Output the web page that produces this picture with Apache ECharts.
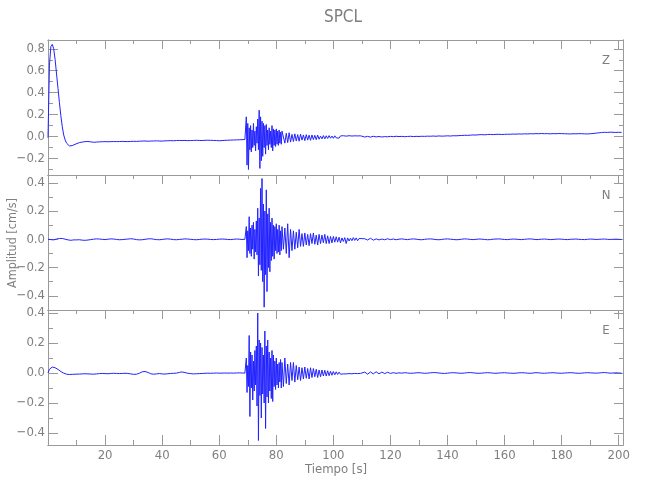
<!DOCTYPE html>
<html><head><meta charset="utf-8">
<script src="https://cdn.jsdelivr.net/npm/echarts@6/dist/echarts.min.js"></script>
<style>html,body{margin:0;padding:0;background:#fff}#c{width:650px;height:500px}</style>
</head><body><div id="c"></div>
<script>
// ---- sampling segments (start time, step in s) ----
const segInicio = [0, 11, 69.5, 82.5, 111];
const segPaso = [0.5, 1, 0.25, 0.5, 1];

// ---- Z component ----
const z_0_10 = [-0.01,0.65,0.82,0.84,0.80,0.70,0.57,0.44,0.31,0.19,0.09,0.015,-0.03,-0.06,-0.075,-0.085,-0.086,-0.082,-0.077,-0.07,-0.063];
const z_11_69 = [-0.055,-0.05,-0.046,-0.045,-0.048,-0.052,-0.05,-0.048,-0.047,-0.046,
-0.047,-0.046,-0.045,-0.046,-0.045,-0.044,-0.045,-0.046,-0.044,-0.043,
-0.044,-0.042,-0.041,-0.04,-0.042,-0.041,-0.04,-0.039,-0.04,-0.041,
-0.039,-0.038,-0.037,-0.038,-0.036,-0.035,-0.036,-0.035,-0.037,-0.036,
-0.035,-0.034,-0.035,-0.036,-0.034,-0.033,-0.034,-0.035,-0.036,-0.038,
-0.036,-0.034,-0.033,-0.032,-0.031,-0.03,-0.029,-0.028,-0.027];
const z_69_82 = [0.18,-0.26,0.12,-0.30,0.08,-0.12,0.10,-0.14,0.06,-0.10,
0.12,-0.08,0.05,-0.13,0.09,-0.06,0.16,-0.12,0.24,-0.29,
0.18,-0.22,0.14,-0.18,0.12,-0.10,0.10,-0.16,0.11,-0.08,
0.06,-0.12,0.08,-0.07,0.05,-0.10,0.10,-0.13,0.07,-0.08,
0.06,-0.09,0.07,-0.07,0.05,-0.08,0.06,-0.06,0.04,-0.07,
0.05];
const z_82_110 = [0.04,-0.06,0.03,-0.055,0.035,-0.05,0.02,-0.045,0.025,-0.04,
0.018,-0.042,0.022,-0.032,0.015,-0.037,0.018,-0.032,0.013,-0.034,
0.015,-0.027,0.012,-0.028,0.014,-0.024,0.004,-0.021,0.009,-0.021,
0.007,-0.017,0.009,-0.015,0.005,-0.016,0.007,-0.012,0.004,-0.014,
0.006,-0.01,0.008,-0.009,0.004,-0.008,0.008,-0.006,0.005,-0.007,
0.007,-0.004,0.006,-0.005,0.007,-0.002];
const z_111_201 = [-0.004,0.002,-0.005,0.003,-0.003,0.001,-0.004,0.0,-0.002,0.002,
-0.001,0.003,0.0,0.002,-0.001,0.001,0.003,0.0,0.002,0.001,
0.003,0.002,0.004,0.003,0.005,0.003,0.006,0.004,0.005,0.007,
0.005,0.008,0.007,0.009,0.01,0.012,0.011,0.013,0.015,0.014,
0.017,0.018,0.016,0.019,0.02,0.018,0.02,0.021,0.019,0.02,
0.022,0.021,0.023,0.022,0.024,0.023,0.025,0.024,0.026,0.025,
0.027,0.026,0.028,0.026,0.027,0.025,0.027,0.026,0.028,0.027,
0.026,0.025,0.024,0.026,0.025,0.027,0.026,0.025,0.024,0.026,
0.028,0.031,0.034,0.037,0.039,0.038,0.04,0.039,0.038,0.039,
0.038];

// ---- N component ----
const n_0_10 = [0,0.003,-0.002,-0.006,-0.004,-0.001,0.002,0.004,0.006,0.007,0.006,0.004,0.001,-0.002,-0.004,-0.006,-0.007,-0.006,-0.004,-0.003,-0.004];
const n_11_69 = [-0.003,-0.006,-0.007,-0.005,-0.002,0.001,0.003,0.002,0.0,-0.002,
0.001,0.003,0.002,-0.001,-0.003,-0.002,0.0,0.002,0.004,0.002,
-0.002,-0.004,-0.003,0.0,0.003,0.004,0.001,-0.002,-0.003,-0.001,
0.002,0.003,0.001,-0.002,-0.003,-0.001,0.001,0.003,0.002,0.0,
-0.002,-0.003,-0.001,0.001,0.002,0.001,-0.001,-0.002,-0.001,0.001,
0.002,0.001,-0.001,-0.002,0.0,0.002,0.001,-0.001,0.0];
const n_69_82 = [0.09,-0.13,0.06,-0.08,0.16,-0.10,0.08,-0.12,0.10,-0.07,
0.12,-0.14,0.07,-0.09,0.13,-0.11,0.22,-0.26,0.15,-0.18,
0.36,-0.22,0.43,-0.30,0.25,-0.48,0.20,-0.25,0.35,-0.37,
0.18,-0.20,0.22,-0.23,0.12,-0.15,0.15,-0.12,0.10,-0.14,
0.09,-0.08,0.11,-0.10,0.07,-0.09,0.10,-0.11,0.06,-0.08,
0.09];
const n_82_110 = [-0.07,0.08,-0.10,0.11,-0.13,0.07,-0.08,0.06,-0.07,0.05,
-0.06,0.07,-0.05,0.04,-0.05,0.045,-0.04,0.035,-0.045,0.04,
-0.03,0.045,-0.035,0.03,-0.04,0.035,-0.03,0.03,-0.025,0.035,
-0.03,0.025,-0.03,0.02,-0.025,0.02,-0.02,0.018,-0.02,0.015,
-0.025,0.01,-0.015,0.012,-0.03,0.01,-0.012,0.008,-0.01,0.012,
-0.008,0.01,-0.01,0.006,-0.008,0.005];
const n_111_201 = [0.004,-0.005,0.008,-0.006,0.003,-0.004,0.002,-0.003,0.004,-0.002,
0.002,-0.003,0.001,0.003,0.0,-0.002,0.001,0.003,0.001,-0.002,
-0.003,0.0,0.002,0.003,0.001,-0.002,-0.003,-0.001,0.002,0.003,
0.001,-0.001,-0.003,-0.002,0.001,0.003,0.002,-0.001,-0.002,0.0,
0.002,0.001,-0.001,-0.003,-0.002,0.001,0.002,0.003,0.001,-0.001,
-0.002,0.0,0.002,0.001,-0.001,-0.002,0.0,0.002,0.003,0.001,
-0.002,-0.001,0.001,0.002,0.0,-0.002,-0.001,0.001,0.002,0.001,
-0.001,-0.002,0.0,0.001,0.002,0.0,-0.001,-0.002,0.0,0.002,
0.001,-0.001,0.0,0.001,0.002,0.0,-0.001,0.0,0.001,0.0,
-0.001];

// ---- E component ----
const e_0_10 = [0.0,0.025,0.038,0.04,0.038,0.035,0.03,0.024,0.017,0.01,0.004,-0.001,-0.005,-0.008,-0.01,-0.01,-0.009,-0.009,-0.008,-0.008,-0.007];
const e_11_69 = [-0.007,-0.006,-0.005,-0.006,-0.007,-0.008,-0.006,-0.004,-0.003,-0.004,
-0.005,-0.003,-0.002,-0.003,-0.004,-0.003,-0.002,-0.003,-0.006,-0.009,
-0.008,-0.002,0.008,0.01,0.004,-0.005,-0.008,-0.006,-0.004,-0.006,
-0.007,-0.005,-0.003,-0.002,-0.001,0.004,0.007,0.003,-0.002,-0.004,
-0.006,-0.005,-0.004,-0.003,-0.002,-0.001,-0.002,-0.001,0.0,-0.001,
-0.001,0.0,-0.001,0.0,-0.001,0.0,0.001,0.0,-0.001];
const e_69_82 = [0.10,-0.13,0.05,-0.09,0.25,-0.29,0.14,-0.10,0.12,-0.18,
0.08,-0.12,0.15,-0.08,0.18,-0.22,0.40,-0.45,0.22,-0.15,
0.20,-0.30,0.17,-0.14,0.12,-0.20,0.28,-0.37,0.18,-0.16,
0.22,-0.20,0.14,-0.12,0.10,-0.17,0.15,-0.19,0.12,-0.09,
0.08,-0.11,0.10,-0.08,0.06,-0.10,0.07,-0.06,0.09,-0.10,
0.07];
const e_82_110 = [-0.09,0.1,-0.07,0.06,-0.08,0.07,-0.05,0.07,-0.06,0.05,
-0.045,0.04,-0.05,0.035,-0.04,0.04,-0.035,0.03,-0.04,0.035,
-0.03,0.03,-0.025,0.025,-0.03,0.02,-0.025,0.02,-0.02,0.018,
-0.02,0.015,-0.018,0.012,-0.015,0.01,-0.012,0.008,-0.01,0.006,
-0.008,0.005,-0.006,0.004,-0.006,0.005,-0.004,0.003,-0.005,0.004,
-0.003,0.002,-0.004,0.003,-0.003,0.002];
const e_111_201 = [0.006,-0.008,0.007,-0.006,0.008,-0.005,0.006,-0.004,0.005,-0.003,
0.002,-0.002,0.001,-0.001,0.002,0.0,-0.002,-0.001,0.001,0.002,
0.0,-0.002,-0.001,0.001,0.003,0.002,0.0,-0.002,-0.003,-0.001,
0.001,0.002,0.001,-0.001,-0.002,0.0,0.002,0.003,0.001,-0.001,
-0.002,-0.001,0.001,0.002,0.001,-0.001,-0.002,0.0,0.001,0.002,
0.0,-0.001,-0.002,-0.001,0.001,0.002,0.001,-0.001,-0.002,0.0,
0.002,0.001,-0.001,-0.002,0.0,0.001,0.002,0.0,-0.001,-0.002,
0.0,0.001,0.002,0.001,-0.001,-0.002,-0.001,0.001,0.002,0.001,
0.0,-0.001,0.0,0.002,0.003,0.001,-0.001,0.0,0.001,0.0,
-0.001];

// ---- axes ticks / labels ----
const componentes = ['Z', 'N', 'E'];
const xTicksMayor = [20,40,60,80,100,120,140,160,180,200];
const xTicksMenor = [10,30,50,70,90,110,130,150,170,190];
const xRango = [0, 201.5];
const yTicksMayor = [[-0.2,0,0.2,0.4,0.6,0.8],[-0.4,-0.2,0,0.2,0.4],[-0.4,-0.2,0,0.2,0.4]];
const yTicksMenor = [[-0.3,-0.1,0.1,0.3,0.5,0.7],[-0.3,-0.1,0.1,0.3],[-0.3,-0.1,0.1,0.3]];
const yRangos = [[-0.35,0.88],[-0.5,0.455],[-0.48,0.42]];
const titulo = 'SPCL';
const xTitulo = 'Tiempo [s]';
const yTitulo = 'Amplitud [cm/s]';

const datos = [
  [z_0_10, z_11_69, z_69_82, z_82_110, z_111_201],
  [n_0_10, n_11_69, n_69_82, n_82_110, n_111_201],
  [e_0_10, e_11_69, e_69_82, e_82_110, e_111_201]
];
function serie(segs) {
  const out = [];
  segs.forEach((vals, k) => vals.forEach((v, i) => out.push([segInicio[k] + segPaso[k] * i, v])));
  return out;
}

const GRAY = '#9a9a9a', TXT = '#7f7f7f';
const FONT = "'Liberation Sans Narrow','DejaVu Sans Condensed',sans-serif";
const grids = [0,1,2].map(i => ({left: 48, top: 40 + 135 * i, width: 575, height: 135}));
const xAxes = [], yAxes = [], series = [];
const fmtY = v => (v < 0 ? '\u2212' : '') + Math.abs(v).toFixed(1);

function addX(g, pos, ticks, len, labels) {
  xAxes.push({
    type: 'value', gridIndex: g, position: pos, min: xRango[0], max: xRango[1],
    axisLine: {show: true, onZero: false, lineStyle: {color: GRAY, width: 1}},
    axisTick: {show: ticks.length > 0, inside: true, length: len, customValues: ticks, lineStyle: {color: GRAY, width: 1}},
    axisLabel: {show: !!labels, customValues: ticks, margin: 4, color: TXT, fontFamily: FONT, fontSize: 13},
    splitLine: {show: false}
  });
  return xAxes.length - 1;
}
function addY(g, pos, ticks, len, labels) {
  yAxes.push({
    type: 'value', gridIndex: g, position: pos, min: yRangos[g][0], max: yRangos[g][1],
    axisLine: {show: true, onZero: false, lineStyle: {color: GRAY, width: 1}},
    axisTick: {show: true, inside: true, length: len, customValues: ticks, lineStyle: {color: GRAY, width: 1}},
    axisLabel: {show: !!labels, customValues: ticks, margin: 3, color: TXT, fontFamily: FONT, fontSize: 13, formatter: fmtY},
    splitLine: {show: false}
  });
  return yAxes.length - 1;
}

for (let g = 0; g < 3; g++) {
  const last = g === 2;
  const xi = addX(g, 'bottom', last ? xTicksMayor : [], 10, last);
  if (last) addX(g, 'bottom', xTicksMenor, 5, false);
  addX(g, 'top', xTicksMayor, 9, false);
  addX(g, 'top', xTicksMenor, 4, false);
  const yi = addY(g, 'left', yTicksMayor[g], 10, true);
  addY(g, 'left', yTicksMenor[g], 5, false);
  addY(g, 'right', yTicksMayor[g], 9, false);
  addY(g, 'right', yTicksMenor[g], 4, false);
  series.push({
    type: 'line', name: componentes[g], xAxisIndex: xi, yAxisIndex: yi,
    data: serie(datos[g]), showSymbol: false, symbol: 'none', clip: true,
    lineStyle: {color: '#2222ff', width: 1}, animation: false
  });
}

const txt = (x, y, s, size, extra) => Object.assign({
  type: 'text', x: x, y: y,
  style: {text: s, fill: TXT, font: size + 'px ' + FONT, textAlign: 'center', textVerticalAlign: 'middle'}
}, extra || {});

const chart = echarts.init(document.getElementById('c'), null, {renderer: 'canvas'});
chart.setOption({
  backgroundColor: '#ffffff',
  animation: false,
  grid: grids,
  xAxis: xAxes,
  yAxis: yAxes,
  series: series,
  graphic: [
    txt(343, 18, titulo, 17),
    txt(336, 470, xTitulo, 13),
    txt(13, 243, yTitulo, 12.5, {rotation: Math.PI / 2}),
    txt(606, 61, componentes[0], 13),
    txt(606, 196, componentes[1], 13),
    txt(606, 331, componentes[2], 13)
  ]
});
</script></body></html>
